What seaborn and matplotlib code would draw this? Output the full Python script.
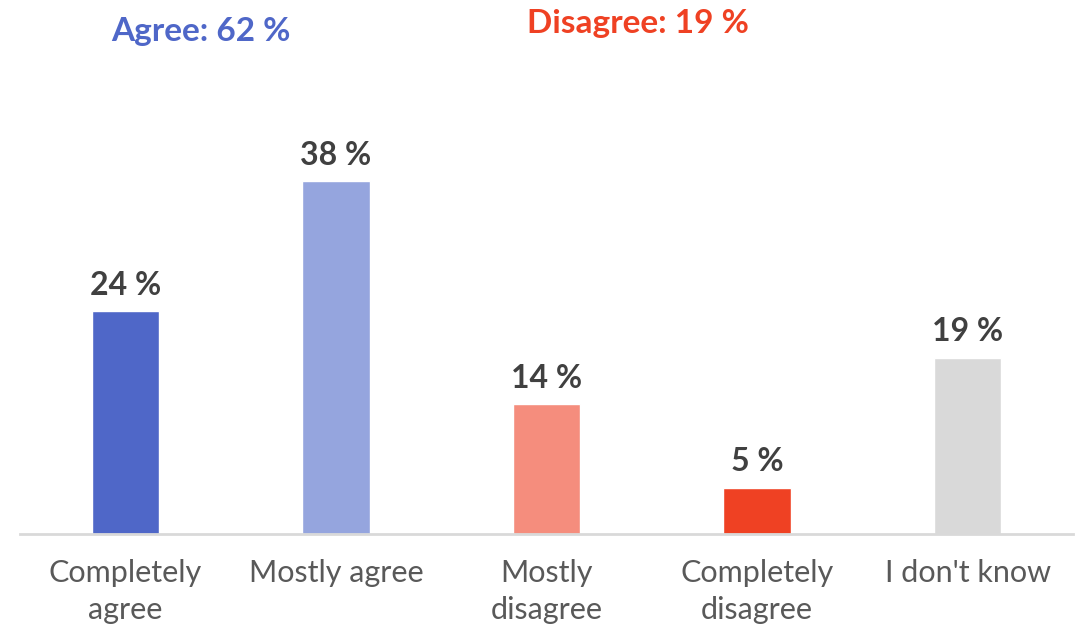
import matplotlib
matplotlib.use("Agg")
import matplotlib.pyplot as plt
import seaborn as sns
import pandas as pd

categories = ["Completely\nagree", "Mostly agree", "Mostly\ndisagree", "Completely\ndisagree", "I don't know"]
values = [24, 38, 14, 5, 19]
colors = ["#4F67C8", "#95A5DE", "#F58D7D", "#EF4123", "#D9D9D9"]
agree_total = "Agree: 62 %"
disagree_total = "Disagree: 19 %"

sns.set_theme(style="white")
plt.rcParams['font.family'] = ['Lato', 'DejaVu Sans']

df = pd.DataFrame({"cat": categories, "val": values})

fig = plt.figure(figsize=(10.79, 6.24), dpi=100)
ax = fig.add_axes([20/1079, 90/624, 1053/1079, 534/624])
sns.barplot(data=df, x="cat", y="val", hue="cat", palette=colors, dodge=False,
            width=0.32, legend=False, ax=ax, saturation=1)
ax.set_ylim(0, 57.5)
ax.set_xlim(-0.5, 4.5)
for s in ["top", "right", "left"]:
    ax.spines[s].set_visible(False)
ax.spines["bottom"].set_color("#D9D9D9")
ax.spines["bottom"].set_linewidth(2)
ax.set_yticks([])
ax.set_xlabel("")
ax.set_ylabel("")
ax.tick_params(axis="x", length=0, pad=18, labelsize=22, labelcolor="#595959")
for lab in ax.get_xticklabels():
    lab.set_linespacing(1.4)

for cont in ax.containers:
    ax.bar_label(cont, labels=[f"{v:g} %" for v in cont.datavalues], padding=8,
                 fontsize=23, fontweight="bold", color="#404040")

fig.text(201/1079, 1 - 31/624, agree_total, ha="center", va="center",
         fontsize=24, fontweight="bold", color="#4F67C8")
fig.text(638/1079, 1 - 23/624, disagree_total, ha="center", va="center",
         fontsize=24, fontweight="bold", color="#EF4123")

fig.savefig("out.png", dpi=100)
